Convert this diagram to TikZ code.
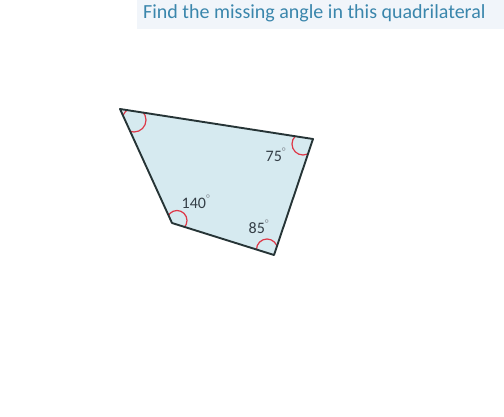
\documentclass[tikz,border=0pt]{standalone}
\usepackage{fontspec}
\setmainfont{Carlito}
\usepackage{tikz}
\usetikzlibrary{calc}
\definecolor{titleblue}{RGB}{58,134,172}
\definecolor{bandfill}{RGB}{241,245,250}
\definecolor{edgedark}{RGB}{38,52,54}
\definecolor{quadfill}{RGB}{214,234,240}
\definecolor{markred}{RGB}{222,56,72}
\definecolor{labeldark}{RGB}{52,62,70}
\definecolor{deggray}{RGB}{140,148,156}
\newcommand{\angdeg}{\textsuperscript{\color{deggray}°}}
\tikzset{%
  % Specifications for style of shapes and labels:
        quad/.style = {draw=edgedark, line width=1.9pt, line join=round},
   anglemark/.style = {draw=markred, line width=1.2pt},
  anglelabel/.style = {text=labeldark, inner sep=0pt,
                       font=\fontsize{16}{19}\selectfont},
   titletext/.style = {text=titleblue, inner sep=0pt, anchor=base west,
                       font=\fontsize{20}{24}\selectfont}
}

\begin{document}
\begin{tikzpicture}[x=1pt, y=-1pt]
  \useasboundingbox (0,0) rectangle (504,416);
  \fill[bandfill] (137,0) rectangle (504,29);
  \node (title) [titletext] at (143,18) {Find the missing angle in this quadrilateral};

  \coordinate (A) at (120,109);
  \coordinate (B) at (313,139);
  \coordinate (C) at (274,255);
  \coordinate (D) at (172,223);

  \fill[quadfill] (A) -- (B) -- (C) -- (D) -- cycle;
  \begin{scope}
    \clip (A) -- (B) -- (C) -- (D) -- cycle;
    \draw[anglemark] (134,120) circle (12pt);
    \draw[anglemark] (303,144) circle (11pt);
    \draw[anglemark] (267,249.5) circle (10.5pt);
    \draw[anglemark] (177,220.5) circle (10pt);
  \end{scope}
  \draw[quad] (A) -- (B) -- (C) -- (D) -- cycle;

  \node (angB) [anglelabel] at (276,155) {75\angdeg};
  \node (angD) [anglelabel] at (196,202) {140\angdeg};
  \node (angC) [anglelabel] at (259,227) {85\angdeg};
\end{tikzpicture}
\end{document}
